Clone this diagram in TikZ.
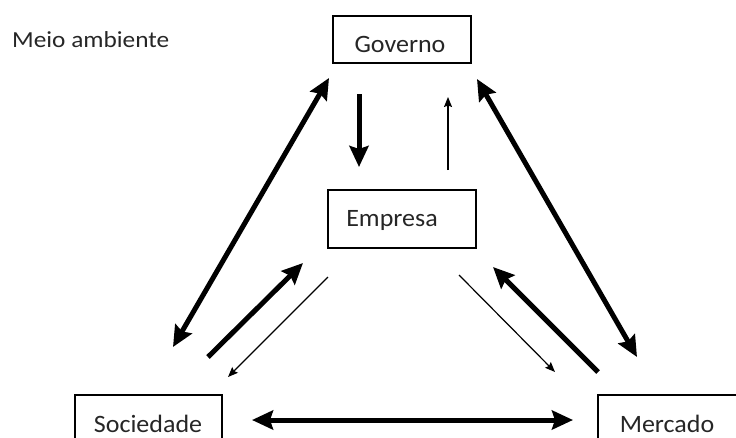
\documentclass[tikz,border=0pt]{standalone}
\usepackage{fontspec}
\setmainfont{Carlito}
\usetikzlibrary{arrows.meta}
\begin{document}
\begin{tikzpicture}[x=1pt,y=-1pt,
  box/.style={draw=black, line width=1.4pt, rectangle, inner sep=0pt},
  lbl/.style={font=\fontsize{25}{30}\selectfont, inner sep=0pt, text=black!85, anchor=base},
  heavy/.style={line width=5pt, arrows={-Stealth[length=21pt,width=19pt,inset=3pt]}},
  heavyboth/.style={line width=5pt, arrows={Stealth[length=21pt,width=19pt,inset=3pt]-Stealth[length=21pt,width=19pt,inset=3pt]}},
  light/.style={line width=1.2pt, arrows={-Stealth[length=10pt,width=8pt,inset=1.5pt]}}
]
\useasboundingbox (0,0) rectangle (736,437);
\clip (0,0) rectangle (736,437);

% boxes
\node[box, minimum width=138pt, minimum height=47pt] (gov) at (402,39.5) {};
\node[box, minimum width=148pt, minimum height=58pt] (emp) at (402,219) {};
\node[box, minimum width=147pt, minimum height=60pt] (soc) at (148.5,425) {};
\node[box, minimum width=150pt, minimum height=60pt] (mer) at (673,425) {};

% labels
\node[lbl] (govt) at (400,52) {\scalebox{1.04}[1]{Governo}};
\node[lbl] (empt) at (392,226) {\scalebox{1.04}[1]{Empresa}};
\node[lbl] (soct) at (148,432) {\scalebox{1.04}[1]{Sociedade}};
\node[lbl] (mert) at (667,432) {\scalebox{1.04}[1]{Mercado}};
\node[lbl, anchor=base west, font=\fontsize{23}{28}\selectfont] (meio) at (12,47.5) {\scalebox{1.1}[1]{Meio ambiente}};

% arrow end points
\coordinate (gsT) at (329,78);
\coordinate (gsB) at (173,347);
\coordinate (gmT) at (477,79);
\coordinate (gmB) at (637,357);
\coordinate (geS) at (359,94);
\coordinate (geE) at (359,167);
\coordinate (egS) at (448,170);
\coordinate (egE) at (448,97);
\coordinate (seS) at (208,357);
\coordinate (seE) at (303,263);
\coordinate (esS) at (328,277);
\coordinate (esE) at (228,377);
\coordinate (emS) at (459,275);
\coordinate (emE) at (555,372);
\coordinate (meS) at (598,372);
\coordinate (meE) at (493,267);
\coordinate (smL) at (252,420);
\coordinate (smR) at (573,420);

% connectors
\draw[heavyboth] (gsT) -- (gsB);
\draw[heavyboth] (gmT) -- (gmB);
\draw[heavy] (geS) -- (geE);
\draw[light] (egS) -- (egE);
\draw[heavy] (seS) -- (seE);
\draw[light] (esS) -- (esE);
\draw[light] (emS) -- (emE);
\draw[heavy] (meS) -- (meE);
\draw[heavyboth] (smL) -- (smR);
\end{tikzpicture}
\end{document}
